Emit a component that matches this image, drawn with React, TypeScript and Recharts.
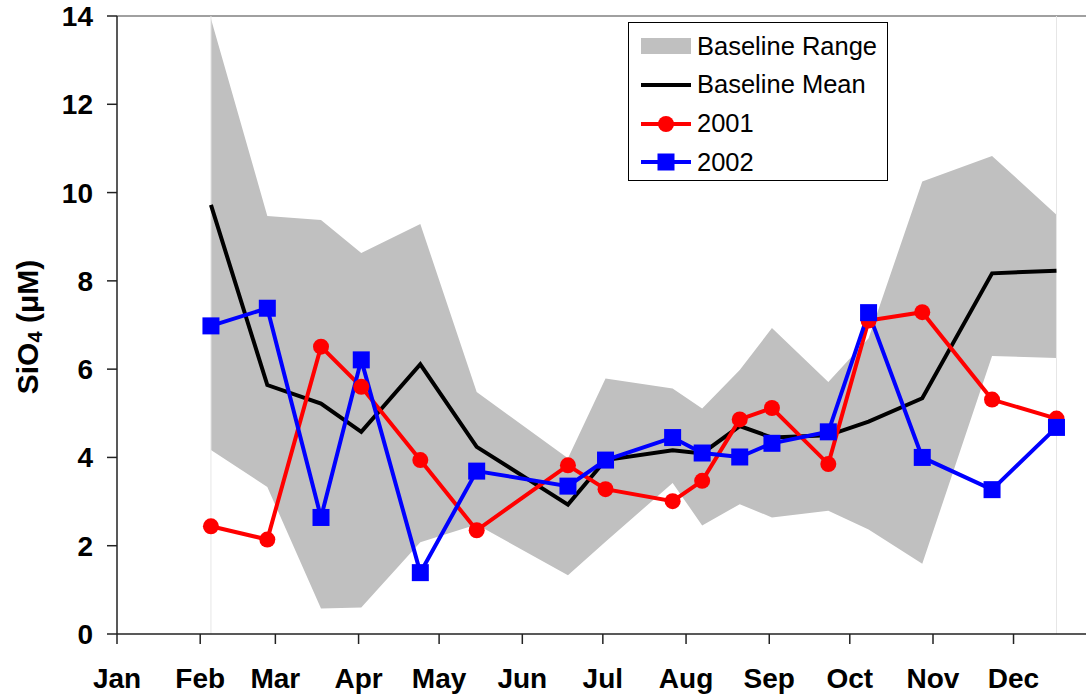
import React from "react";
import {
  ComposedChart,
  Area,
  Line,
  XAxis,
  YAxis,
  ReferenceLine,
  Legend,
} from "recharts";

const FONT = "'Liberation Sans', Arial, sans-serif";

// month ticks on a day-of-year axis (0 = Jan 1)
const monthNames = ["Jan", "Feb", "Mar", "Apr", "May", "Jun", "Jul", "Aug", "Sep", "Oct", "Nov", "Dec"];
const monthStarts = [0, 31, 59, 90, 120, 151, 181, 212, 243, 273, 304, 334];

// sampling days (day of year)
const sampleDays = [35, 56, 76, 91, 113, 134, 168, 182, 207, 218, 232, 244, 265, 280, 300, 326, 350];

// baseline min / max envelope and mean, SiO4 in uM
const rangeLow = [4.17, 3.33, 0.58, 0.6, 2.08, 2.48, 1.33, 2.09, 3.42, 2.46, 2.94, 2.64, 2.79, 2.37, 1.59, 6.3, 6.25];
const rangeHigh = [13.94, 9.47, 9.38, 8.63, 9.29, 5.48, 3.98, 5.79, 5.56, 5.11, 5.98, 6.93, 5.71, 6.7, 10.25, 10.83, 9.5];
const baselineMean = [9.72, 5.64, 5.22, 4.58, 6.11, 4.24, 2.93, 3.94, 4.16, 4.09, 4.71, 4.45, 4.5, 4.81, 5.34, 8.17, 8.23];

// yearly observations
const si2001 = [2.44, 2.14, 6.51, 5.6, 3.94, 2.35, 3.82, 3.28, 3.01, 3.47, 4.86, 5.12, 3.85, 7.1, 7.29, 5.31, 4.88];
const si2002 = [6.98, 7.38, 2.64, 6.21, 1.39, 3.69, 3.35, 3.94, 4.45, 4.1, 4.01, 4.32, 4.58, 7.28, 4.0, 3.27, 4.68];

const yTicks = [0, 2, 4, 6, 8, 10, 12, 14];

const chartData = sampleDays.map((day, i) => ({
  day,
  range: [rangeLow[i], rangeHigh[i]],
  mean: baselineMean[i],
  y2001: si2001[i],
  y2002: si2002[i],
}));

const MonthTick = (props: any) => {
  const { x, y, payload } = props;
  const idx = monthStarts.indexOf(payload.value);
  return (
    <text x={x} y={y} dy={44} textAnchor="middle" fontSize={28} fontWeight="bold" fontFamily={FONT} fill="#000">
      {monthNames[idx]}
    </text>
  );
};

const ValueTick = (props: any) => {
  const { x, y, payload } = props;
  return (
    <text x={x} y={y} dy={10} textAnchor="end" fontSize={28} fontWeight="bold" fontFamily={FONT} fill="#000">
      {payload.value}
    </text>
  );
};

const YTitle = () => (
  <text
    x={30}
    y={327}
    transform="rotate(-90, 30, 327)"
    textAnchor="middle"
    dominantBaseline="middle"
    fontSize={30}
    fontWeight="bold"
    fontFamily={FONT}
    fill="#000"
  >
    SiO
    <tspan fontSize={20} dy={7}>4</tspan>
    <tspan dy={-7}> (μM)</tspan>
  </text>
);

const SquareDot = (props: any) => {
  const { cx, cy, index } = props;
  if (cx == null || cy == null) return null;
  return <rect key={`sq-${index}`} x={cx - 8.5} y={cy - 8.5} width={17} height={17} fill="#0000FF" />;
};

const legendItems = [
  { name: "Baseline Range", kind: "area", color: "#C0C0C0" },
  { name: "Baseline Mean", kind: "line", color: "#000000" },
  { name: "2001", kind: "circle", color: "#FF0000" },
  { name: "2002", kind: "square", color: "#0000FF" },
];

const LegendBox = () => (
  <div
    style={{
      border: "1px solid #000",
      background: "#fff",
      width: 260,
      height: 159,
      boxSizing: "border-box",
      padding: "4px 0 0 12px",
      fontFamily: FONT,
      fontSize: 25.5,
      color: "#000",
    }}
  >
    {legendItems.map((it) => (
      <div key={it.name} style={{ display: "flex", alignItems: "center", height: 38.7 }}>
        <svg width={50} height={20} style={{ marginRight: 6 }}>
          {it.kind === "area" && <rect x={0} y={2} width={50} height={16} fill={it.color} />}
          {it.kind !== "area" && <line x1={0} y1={10} x2={50} y2={10} stroke={it.color} strokeWidth={4} />}
          {it.kind === "circle" && <circle cx={25} cy={10} r={8} fill={it.color} />}
          {it.kind === "square" && <rect x={16.5} y={1.5} width={17} height={17} fill={it.color} />}
        </svg>
        <span style={{ lineHeight: 1 }}>{it.name}</span>
      </div>
    ))}
  </div>
);

export default function App() {
  return (
    <div style={{ position: "absolute", left: 0, top: 0, background: "#fff" }}>
      <ComposedChart
        width={1086}
        height={697}
        data={chartData}
        margin={{ top: 16, right: 0, bottom: 0, left: 0 }}
      >
        <XAxis
          type="number"
          dataKey="day"
          domain={[0, 361]}
          ticks={monthStarts}
          interval={0}
          height={63}
          tickSize={10}
          tickMargin={0}
          tick={<MonthTick />}
          axisLine={{ stroke: "#222", strokeWidth: 1.5 }}
          tickLine={{ stroke: "#222", strokeWidth: 1.5 }}
        />
        <YAxis
          type="number"
          domain={[0, 14]}
          ticks={yTicks}
          interval={0}
          width={117}
          tickSize={10}
          tickMargin={14}
          tick={<ValueTick />}
          axisLine={{ stroke: "#222", strokeWidth: 1.5 }}
          tickLine={{ stroke: "#222", strokeWidth: 1.5 }}
          label={{ content: () => <YTitle /> }}
        />
        <ReferenceLine y={14} stroke="#808080" strokeWidth={1.5} />
        <ReferenceLine x={sampleDays[0]} stroke="#e6e6e6" strokeWidth={1} />
        <ReferenceLine x={sampleDays[sampleDays.length - 1]} stroke="#e6e6e6" strokeWidth={1} />
        <Area
          type="linear"
          dataKey="range"
          fill="#C0C0C0"
          fillOpacity={1}
          stroke="none"
          isAnimationActive={false}
        />
        <Line
          type="linear"
          dataKey="mean"
          stroke="#000000"
          strokeWidth={4}
          dot={false}
          isAnimationActive={false}
        />
        <Line
          type="linear"
          dataKey="y2001"
          stroke="#FF0000"
          strokeWidth={4}
          dot={{ r: 8, fill: "#FF0000", stroke: "none" }}
          isAnimationActive={false}
        />
        <Line
          type="linear"
          dataKey="y2002"
          stroke="#0000FF"
          strokeWidth={4}
          dot={<SquareDot />}
          isAnimationActive={false}
        />
        <Legend
          layout="horizontal"
          verticalAlign="middle"
          align="center"
          content={() => <LegendBox />}
          wrapperStyle={{ left: 628, top: 22, width: 260 }}
        />
      </ComposedChart>
    </div>
  );
}
